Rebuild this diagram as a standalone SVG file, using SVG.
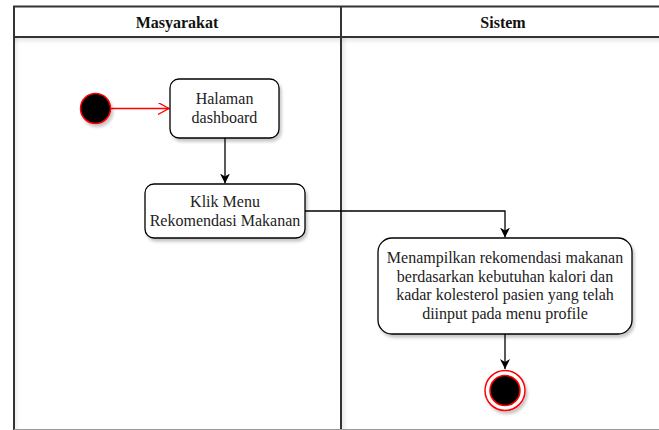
<svg xmlns="http://www.w3.org/2000/svg" width="659" height="430" viewBox="0 0 659 430">
<defs>
<style>
.lane{fill:none;stroke:#333;stroke-width:2}
.hdr{font-family:"Liberation Serif","Times New Roman",serif;font-size:16px;font-weight:bold;fill:#111;text-anchor:middle}
.box{fill:#fff;stroke:#000;stroke-width:1.3}
.txt{font-family:"Liberation Serif","Times New Roman",serif;font-size:16px;fill:#222;text-anchor:middle}
.edge{fill:none;stroke:#000;stroke-width:1.3}
.red{fill:none;stroke:#ff0000;stroke-width:1.3}
</style>
<filter id="sh" x="-20%" y="-20%" width="150%" height="150%">
<feDropShadow dx="2" dy="3" stdDeviation="1.5" flood-color="#000" flood-opacity="0.22"/>
</filter>
<linearGradient id="lg" x1="0" y1="0" x2="1" y2="0">
<stop offset="0" stop-color="#000" stop-opacity="0.08"/>
<stop offset="1" stop-color="#000" stop-opacity="0"/>
</linearGradient>
<linearGradient id="tg" x1="0" y1="0" x2="0" y2="1">
<stop offset="0" stop-color="#000" stop-opacity="0.1"/>
<stop offset="1" stop-color="#000" stop-opacity="0"/>
</linearGradient>
<marker id="blk" markerWidth="12" markerHeight="12" refX="10" refY="5" orient="auto" markerUnits="userSpaceOnUse">
<path d="M0,0 L10,5 L0,10 L3,5 Z" fill="#000"/>
</marker>
<marker id="open" markerWidth="14" markerHeight="14" refX="11" refY="6" orient="auto" markerUnits="userSpaceOnUse">
<path d="M0,0 L11,6 L0,12" fill="none" stroke="#ff0000" stroke-width="1.3"/>
</marker>
</defs>
<rect width="659" height="430" fill="#fff"/>
<g id="lanes">
<rect x="14" y="38" width="6" height="392" fill="url(#lg)"/>
<rect x="342" y="38" width="6" height="392" fill="url(#lg)"/>
<rect x="14" y="38" width="645" height="6" fill="url(#tg)"/>
<path class="lane" d="M14,430 V6.5 H659"/>
<path class="lane" d="M14,37 H659"/>
<path class="lane" d="M341,6.5 V430"/>
<line x1="14" y1="429.5" x2="659" y2="429.5" stroke="#999" stroke-width="1"/>
<text class="hdr" x="177" y="28">Masyarakat</text>
<text class="hdr" x="503" y="28">Sistem</text>
</g>
<g id="connectors">
<line class="red" x1="111" y1="108.5" x2="169" y2="108.5" marker-end="url(#open)"/>
<line class="edge" x1="225" y1="138" x2="225" y2="183.5" marker-end="url(#blk)"/>
<polyline class="edge" points="305,211 505,211 505,237.5" marker-end="url(#blk)"/>
<line class="edge" x1="505" y1="334" x2="505" y2="369" marker-end="url(#blk)"/>
</g>
<g id="start">
<circle cx="95.5" cy="108.5" r="15" fill="#000" stroke="#ff0000" stroke-width="1.5" filter="url(#sh)"/>
</g>
<g id="halaman">
<rect class="box" x="170" y="79" width="109" height="59" rx="9" filter="url(#sh)"/>
<text class="txt" x="224.5" y="104">Halaman</text>
<text class="txt" x="224.5" y="123">dashboard</text>
</g>
<g id="klik">
<rect class="box" x="145" y="184" width="160" height="54" rx="9" filter="url(#sh)"/>
<text class="txt" x="225" y="206.5">Klik Menu</text>
<text class="txt" x="225" y="226">Rekomendasi Makanan</text>
</g>
<g id="tampil">
<rect class="box" x="378" y="238" width="254" height="96" rx="14" filter="url(#sh)"/>
<text class="txt" x="505" y="263">Menampilkan rekomendasi makanan</text>
<text class="txt" x="505" y="281.5">berdasarkan kebutuhan kalori dan</text>
<text class="txt" x="505" y="300">kadar kolesterol pasien yang telah</text>
<text class="txt" x="505" y="318.5">diinput pada menu profile</text>
</g>
<g id="end">
<circle cx="505" cy="390.5" r="20" fill="#fff" stroke="#ff0000" stroke-width="1.5" filter="url(#sh)"/>
<circle cx="505" cy="390.5" r="15" fill="#000" stroke="#ff0000" stroke-width="1.5"/>
</g>
</svg>
